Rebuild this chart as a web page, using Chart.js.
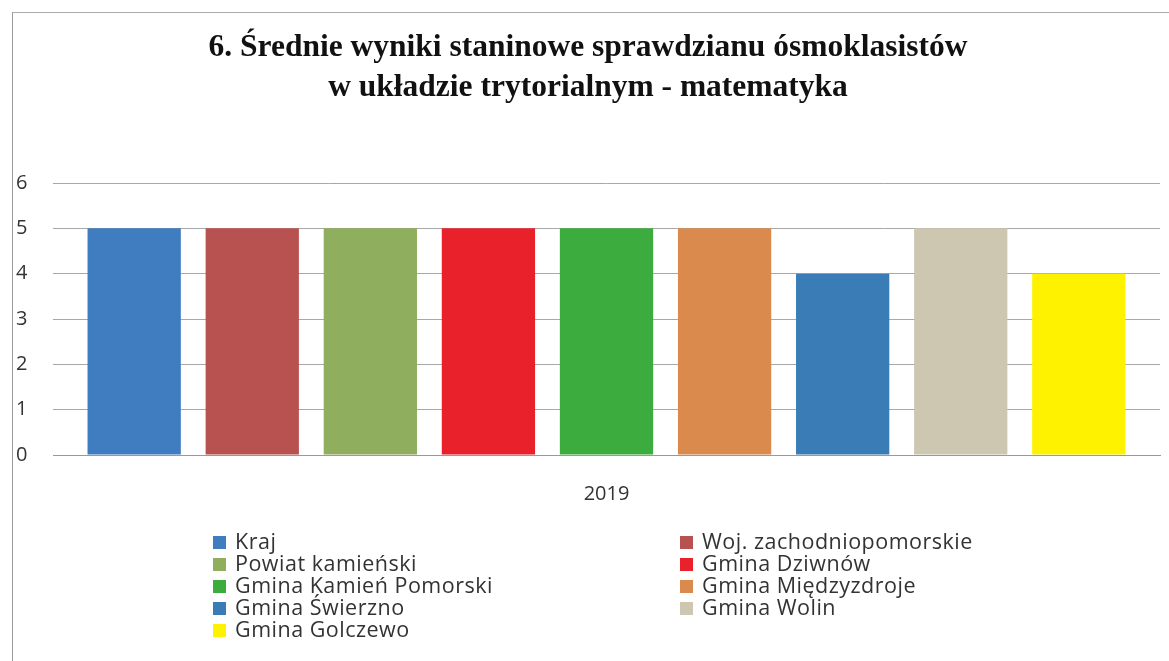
<!DOCTYPE html>
<html>
<head>
<meta charset="utf-8">
<script src="https://cdn.jsdelivr.net/npm/chart.js@4"></script>
<style>
  body { margin: 0; background: #fff; }
  #wrap { position: relative; width: 1169px; height: 661px; overflow: hidden; }
  #frame { position: absolute; left: 12px; top: 12px; width: 1170px; height: 660px;
           border-left: 1px solid #999; border-top: 1px solid #aaa; }
  #chart { position: absolute; left: 0; top: 0; }
  #legend { position: absolute; left: 213px; top: 530px; display: grid;
            grid-template-columns: 467px 300px; row-gap: 0;
            font-family: "Open Sans", sans-serif; font-size: 21.5px; letter-spacing: 0.5px; color: #333; }
  #legend div { height: 22px; line-height: 22px; white-space: nowrap; }
  #legend span { display: inline-block; width: 13px; height: 13px; margin-right: 9px; vertical-align: 0px; }
</style>
</head>
<body>
<div id="wrap">
  <div id="frame"></div>
  <canvas id="chart" width="1169" height="538"></canvas>
  <div id="legend"></div>
</div>
<script>
// dane
const years = ['2019'];
const units = ['Kraj', 'Woj. zachodniopomorskie', 'Powiat kamieński', 'Gmina Dziwnów',
  'Gmina Kamień Pomorski', 'Gmina Międzyzdroje', 'Gmina Świerzno', 'Gmina Wolin', 'Gmina Golczewo'];
const scores = [5, 5, 5, 5, 5, 5, 4, 5, 4];
const colors = ['#3f7dc0', '#b85250', '#8fae5e', '#e8212b', '#3cac3f', '#d98a4c', '#3a7db6', '#cdc7b1', '#fff200'];

const datasets = units.map((name, i) => ({
  label: name,
  data: [scores[i]],
  backgroundColor: colors[i],
  borderWidth: 0,
  categoryPercentage: 0.96,
  barPercentage: 0.79
}));

const ctx = document.getElementById('chart').getContext('2d');
new Chart(ctx, {
  type: 'bar',
  data: { labels: years, datasets: datasets },
  options: {
    animation: false,
    responsive: false,
    layout: { padding: { left: 16, right: 9, top: 0, bottom: 13 } },
    plugins: {
      legend: { display: false },
      tooltip: { enabled: false },
      title: {
        display: true,
        text: ['6. Średnie wyniki staninowe sprawdzianu ósmoklasistów', 'w układzie trytorialnym - matematyka'],
        color: '#111',
        font: { family: '"Liberation Serif", serif', size: 31.5, weight: 'bold', lineHeight: 1.27 },
        padding: { top: 28, bottom: 75 }
      }
    },
    scales: {
      x: {
        grid: { display: false },
        border: { color: '#999' },
        ticks: { color: '#333', font: { family: '"Open Sans", sans-serif', size: 20 }, padding: 19 }
      },
      y: {
        min: 0, max: 6,
        afterFit: s => { s.width = 37; },
        grid: { color: '#a8a8a8', drawTicks: false },
        border: { display: false },
        ticks: { stepSize: 1, color: '#333', crossAlign: 'far', padding: 0,
                 font: { family: '"Open Sans", sans-serif', size: 20 } }
      }
    }
  }
});

// legenda w dwóch kolumnach
const leg = document.getElementById('legend');
units.forEach((name, i) => {
  const d = document.createElement('div');
  const box = document.createElement('span');
  box.style.background = colors[i];
  d.appendChild(box);
  d.appendChild(document.createTextNode(name));
  leg.appendChild(d);
});
</script>
</body>
</html>
